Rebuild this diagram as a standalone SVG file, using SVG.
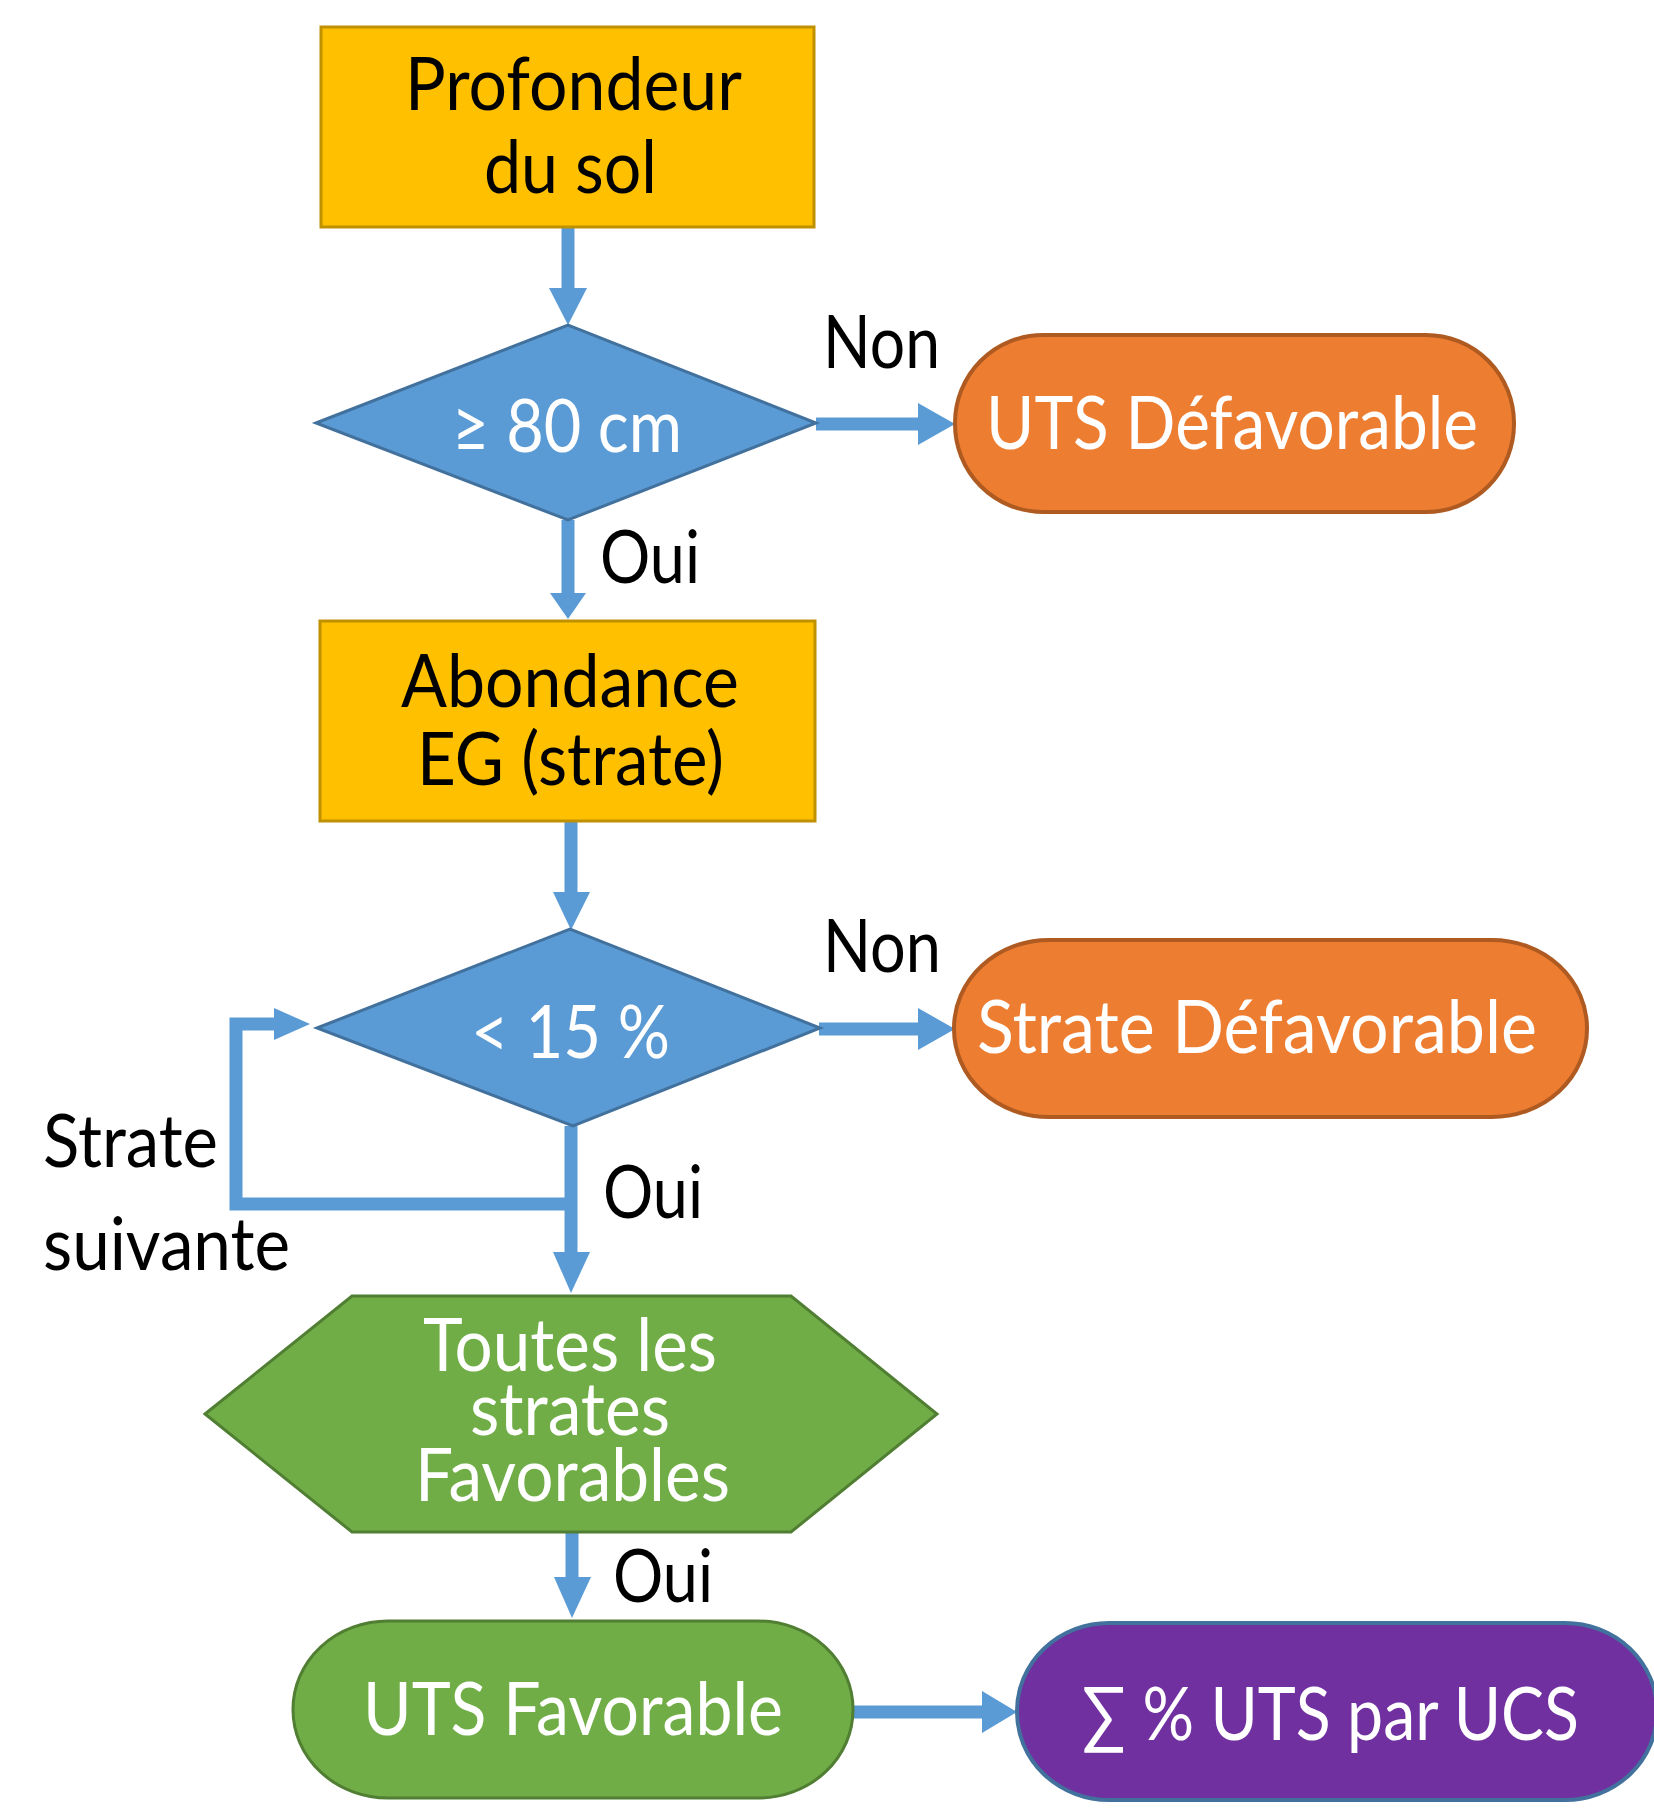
<svg xmlns="http://www.w3.org/2000/svg" width="1654" height="1809" viewBox="0 0 1654 1809">
<style>
text{font-family:Lato,"Open Sans","DejaVu Sans",sans-serif;font-size:74px;}
.dk{fill:#000000;}
.wt{fill:#FFFFFF;}
.box{fill:#FFC000;stroke:#BF9000;stroke-width:3;}
.dia{fill:#5B9BD5;stroke:#41719C;stroke-width:3;}
.org{fill:#ED7D31;stroke:#AE5A21;stroke-width:4;}
.grn{fill:#70AD47;stroke:#507E32;stroke-width:3;}
.pur{fill:#7030A0;stroke:#41719C;stroke-width:4;}
.ln{fill:none;stroke:#5B9BD5;stroke-width:13;}
.hd{fill:#5B9BD5;stroke:none;}
</style>
<rect width="1654" height="1809" fill="#FFFFFF"/>
<g id="connectors">
  <line class="ln" x1="568" y1="227" x2="568" y2="289"/>
  <polygon class="hd" points="549,288 587,288 568,325"/>
  <line class="ln" x1="816" y1="424" x2="919" y2="424"/>
  <polygon class="hd" points="918,403 955,424 918,445"/>
  <line class="ln" x1="568" y1="520" x2="568" y2="594"/>
  <polygon class="hd" points="550,593 586,593 568,619"/>
  <line class="ln" x1="571" y1="821" x2="571" y2="893"/>
  <polygon class="hd" points="553,892 590,892 571,930"/>
  <line class="ln" x1="819" y1="1029" x2="919" y2="1029"/>
  <polygon class="hd" points="918,1008 955,1029 918,1050"/>
  <line class="ln" x1="571" y1="1126" x2="571" y2="1253"/>
  <polygon class="hd" points="553,1252 590,1252 571,1293"/>
  <polyline class="ln" points="571,1204 236,1204 236,1024 275,1024"/>
  <polygon class="hd" points="274,1008 310,1024 274,1040"/>
  <line class="ln" x1="572" y1="1532" x2="572" y2="1578"/>
  <polygon class="hd" points="554,1577 591,1577 572,1618"/>
  <line class="ln" x1="853" y1="1712" x2="983" y2="1712"/>
  <polygon class="hd" points="982,1691 1017,1712 982,1733"/>
</g>
<g id="labels">
  <text class="dk" x="823" y="368" textLength="117" lengthAdjust="spacingAndGlyphs">Non</text>
  <text class="dk" x="600" y="583" textLength="100" lengthAdjust="spacingAndGlyphs">Oui</text>
  <text class="dk" x="823" y="972" textLength="118" lengthAdjust="spacingAndGlyphs">Non</text>
  <text class="dk" x="603" y="1218" textLength="100" lengthAdjust="spacingAndGlyphs">Oui</text>
  <text class="dk" x="43" y="1167" textLength="175" lengthAdjust="spacingAndGlyphs">Strate</text>
  <text class="dk" x="43" y="1270" textLength="247" lengthAdjust="spacingAndGlyphs">suivante</text>
  <text class="dk" x="613" y="1602" textLength="100" lengthAdjust="spacingAndGlyphs">Oui</text>
</g>
<g id="profondeur">
  <rect class="box" x="321" y="27" width="493" height="200"/>
  <text class="dk" x="405" y="110" textLength="337" lengthAdjust="spacingAndGlyphs">Profondeur</text>
  <text class="dk" x="484" y="193" textLength="173" lengthAdjust="spacingAndGlyphs">du sol</text>
</g>
<g id="d80">
  <polygon class="dia" points="316,423 568,325 816,423 568,520"/>
  <text class="wt" x="452" y="452" textLength="230" lengthAdjust="spacingAndGlyphs">≥ 80 cm</text>
</g>
<g id="utsdef">
  <rect class="org" x="955" y="335" width="559" height="177" rx="88" ry="88"/>
  <text class="wt" x="986" y="449" textLength="492" lengthAdjust="spacingAndGlyphs">UTS Défavorable</text>
</g>
<g id="abondance">
  <rect class="box" x="320" y="621" width="495" height="200"/>
  <text class="dk" x="401" y="707" textLength="338" lengthAdjust="spacingAndGlyphs">Abondance</text>
  <text class="dk" x="417" y="785" textLength="307" lengthAdjust="spacingAndGlyphs">EG (strate)</text>
</g>
<g id="d15">
  <polygon class="dia" points="317,1028 570,929 820,1028 573,1126"/>
  <text class="wt" x="471" y="1058" textLength="199" lengthAdjust="spacingAndGlyphs">&lt; 15 %</text>
</g>
<g id="stratedef">
  <rect class="org" x="954" y="940" width="633" height="177" rx="95" ry="88"/>
  <text class="wt" x="977" y="1053" textLength="560" lengthAdjust="spacingAndGlyphs">Strate Défavorable</text>
</g>
<g id="toutes">
  <polygon class="grn" points="205,1414 352,1296 791,1296 937,1414 791,1532 352,1532"/>
  <text class="wt" x="423" y="1371" textLength="294" lengthAdjust="spacingAndGlyphs">Toutes les</text>
  <text class="wt" x="470" y="1435" textLength="200" lengthAdjust="spacingAndGlyphs">strates</text>
  <text class="wt" x="415" y="1501" textLength="315" lengthAdjust="spacingAndGlyphs">Favorables</text>
</g>
<g id="utsfav">
  <rect class="grn" x="293" y="1621" width="560" height="177" rx="95" ry="88"/>
  <text class="wt" x="363" y="1735" textLength="420" lengthAdjust="spacingAndGlyphs">UTS Favorable</text>
</g>
<g id="somme">
  <rect class="pur" x="1017" y="1623" width="640" height="177" rx="92" ry="88"/>
  <text class="wt" x="1082" y="1740" textLength="497" lengthAdjust="spacingAndGlyphs">∑ % UTS par UCS</text>
</g>
</svg>
